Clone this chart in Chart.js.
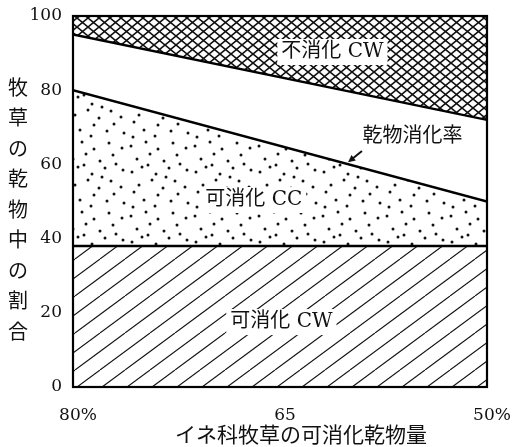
<!DOCTYPE html>
<html><head><meta charset="utf-8">
<script src="https://cdn.jsdelivr.net/npm/chart.js@4.4.1/dist/chart.umd.min.js"></script>
<style>html,body{margin:0;padding:0;background:#fff}#c{display:block}</style>
</head><body>
<canvas id="c" width="512" height="447"></canvas>
<script>
// ---- data ----
const xValues = [80, 50];                  // digestible dry matter of grass (%)
const digestibleCW = [38, 38];             // 可消化 CW upper bound
const dryMatterDigestibility = [80, 50];   // 乾物消化率 line
const cellWallBoundary = [95, 72];         // lower edge of 不消化 CW
const totalValues = [100, 100];            // top
const xTicks = [80, 65, 50];
const xTickLabels = ['80%', '65', '50%'];
const yTitleChars = ['牧','草','の','乾','物','中','の','割','合'];
const xTitle = 'イネ科牧草の可消化乾物量';
const regionTexts = ['不消化 CW', '可消化 CC', '可消化 CW', '乾物消化率'];

// ---- styling / layout ----
const INK = '#111';
const LABEL_FONT = '20px "DejaVu Serif", "Noto Sans CJK JP"';
const labelPlaces = [ {x:61.2, y:90.3, bg:true}, {x:66.9, y:50.4, bg:true}, {x:64.9, y:17.5, bg:true}, {x:55.4, y:67.4, bg:false} ];
const arrowFrom = [59.06, 63.6], arrowTo = [60.07, 60.6];

function makeTile(w, h, draw) {
  const c = document.createElement('canvas'); c.width = w; c.height = h;
  const g = c.getContext('2d'); g.fillStyle = '#fff'; g.fillRect(0, 0, w, h);
  draw(g); return g.createPattern(c, 'repeat');
}
const hatch = makeTile(50, 37, g => {
  g.strokeStyle = INK; g.lineWidth = 1.1;
  for (let k = -2; k <= 2; k++) { g.beginPath(); g.moveTo(k*25, 37); g.lineTo(k*25 + 50, 0); g.stroke(); }
});
const cross = makeTile(11, 9, g => {
  g.strokeStyle = INK; g.lineWidth = 1.6;
  for (let k = -1; k <= 1; k++) {
    g.beginPath(); g.moveTo(k*11, 0); g.lineTo(k*11 + 11, 9); g.stroke();
    g.beginPath(); g.moveTo(k*11, 9); g.lineTo(k*11 + 11, 0); g.stroke();
  }
});
const dotSpots = [[3,6],[18,2],[30,9],[45,3],[9,19],[22,14],[36,21],[49,15],[4,32],[14,27],[28,34],[41,28],[11,45],[24,40],[35,48],[47,41],[20,25],[38,37],[6,52],[30,55],[50,54],[16,60],[43,61],[27,66],[5,67],[58,8],[59,30],[57,47],[60,63],[52,24]];
const dots = makeTile(64, 70, g => {
  g.fillStyle = INK;
  dotSpots.forEach(([a,b]) => { g.beginPath(); g.arc(a, b, 1.5, 0, Math.PI*2); g.fill(); });
});

const pts = arr => xValues.map((x, i) => ({x, y: arr[i]}));
const serif = {family: '"DejaVu Serif", "Liberation Serif", serif', size: 17};
const noOverhang = s => { s.paddingLeft = 0; s.paddingRight = 0; s.paddingTop = 0; s.paddingBottom = 0; };

const decor = {
  id: 'decor',
  afterDatasetsDraw(chart) {
    const {ctx, chartArea: a, scales: {x, y}} = chart;
    ctx.save();
    ctx.strokeStyle = '#000'; ctx.lineWidth = 2.2;
    ctx.strokeRect(a.left, a.top, a.right - a.left, a.bottom - a.top);
    // region labels
    ctx.font = LABEL_FONT; ctx.textAlign = 'center'; ctx.textBaseline = 'middle';
    regionTexts.forEach((t, i) => {
      const p = labelPlaces[i];
      const px = x.getPixelForValue(p.x), py = y.getPixelForValue(p.y);
      const w = ctx.measureText(t).width;
      if (p.bg) { ctx.fillStyle = '#fff'; ctx.fillRect(px - w/2 - 4, py - 13, w + 8, 26); }
      ctx.fillStyle = INK; ctx.fillText(t, px, py);
    });
    // arrow
    const x1 = x.getPixelForValue(arrowFrom[0]), y1 = y.getPixelForValue(arrowFrom[1]);
    const x2 = x.getPixelForValue(arrowTo[0]), y2 = y.getPixelForValue(arrowTo[1]);
    const ang = Math.atan2(y2 - y1, x2 - x1);
    ctx.strokeStyle = INK; ctx.lineWidth = 2;
    ctx.beginPath(); ctx.moveTo(x1, y1); ctx.lineTo(x2 - 4*Math.cos(ang), y2 - 4*Math.sin(ang)); ctx.stroke();
    ctx.fillStyle = INK; ctx.beginPath();
    ctx.moveTo(x2, y2);
    ctx.lineTo(x2 - 8*Math.cos(ang - 0.45), y2 - 8*Math.sin(ang - 0.45));
    ctx.lineTo(x2 - 8*Math.cos(ang + 0.45), y2 - 8*Math.sin(ang + 0.45));
    ctx.closePath(); ctx.fill();
    // axis titles
    ctx.font = '20px "Noto Sans CJK JP"'; ctx.fillStyle = INK;
    yTitleChars.forEach((ch, i) => ctx.fillText(ch, 18, 87 + i*30.5));
    ctx.font = '21px "Noto Sans CJK JP"';
    ctx.fillText(xTitle, 301, 434);
    ctx.restore();
  }
};

new Chart(document.getElementById('c'), {
  type: 'line',
  data: { datasets: [
    { label: '可消化 CW', data: pts(digestibleCW), fill: 'origin', backgroundColor: hatch, borderColor: '#000', borderWidth: 2.4, pointRadius: 0 },
    { label: '可消化 CC', data: pts(dryMatterDigestibility), fill: '-1', backgroundColor: dots, borderColor: '#000', borderWidth: 2.4, pointRadius: 0 },
    { label: '未区分', data: pts(cellWallBoundary), fill: '-1', backgroundColor: '#fff', borderColor: '#000', borderWidth: 2.4, pointRadius: 0 },
    { label: '不消化 CW', data: pts(totalValues), fill: '-1', backgroundColor: cross, borderColor: '#000', borderWidth: 0, pointRadius: 0 }
  ]},
  options: {
    responsive: false, animation: false, devicePixelRatio: 1,
    layout: { padding: { left: 0, right: 25, top: 16, bottom: 0 } },
    plugins: { legend: { display: false }, tooltip: { enabled: false } },
    scales: {
      x: { type: 'linear', reverse: true, min: 50, max: 80,
        grid: { display: false, drawTicks: false }, border: { display: false },
        afterBuildTicks: s => { s.ticks = xTicks.map(v => ({value: v})); },
        ticks: { callback: v => { const i = xTicks.indexOf(v); return i < 0 ? '' : xTickLabels[i]; },
          font: serif, color: INK, padding: 18, maxRotation: 0, autoSkip: false, labelOffset: 5 },
        afterFit: s => { s.height = 60; noOverhang(s); } },
      y: { min: 0, max: 100,
        grid: { display: false, drawTicks: false }, border: { display: false },
        ticks: { stepSize: 20, font: serif, color: INK, padding: 11 },
        afterFit: s => { s.width = 73; noOverhang(s); } }
    }
  },
  plugins: [decor]
});
</script>
</body></html>
